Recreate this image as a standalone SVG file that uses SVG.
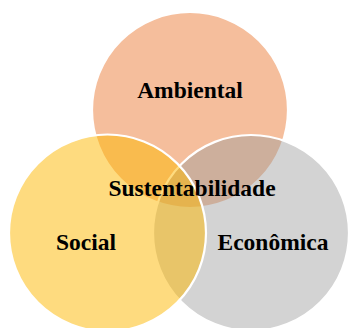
<svg xmlns="http://www.w3.org/2000/svg" width="348" height="328" viewBox="0 0 348 328">
  <style>
    .ring { stroke: #FFFFFF; stroke-width: 2.2; }
    .lbl { font-family: "Liberation Serif", "Times New Roman", serif; font-weight: bold; font-size: 23.5px; fill: #000000; text-anchor: middle; }
  </style>
  <rect width="348" height="328" fill="#FFFFFF"/>
  <g id="ambiental">
    <circle class="ring" cx="190" cy="110" r="98" fill="#F5BE9C"/>
    <text class="lbl" x="190" y="98">Ambiental</text>
  </g>
  <g id="economica">
    <circle class="ring" cx="251" cy="233" r="98" fill="#9D9D9D" fill-opacity="0.45"/>
    <text class="lbl" x="273" y="250">Econômica</text>
  </g>
  <g id="social">
    <circle class="ring" cx="107.5" cy="233" r="98.5" fill="#FDB700" fill-opacity="0.5"/>
    <text class="lbl" x="86" y="250">Social</text>
  </g>
  <g id="sustentabilidade">
    <text class="lbl" x="192" y="196">Sustentabilidade</text>
  </g>
</svg>
